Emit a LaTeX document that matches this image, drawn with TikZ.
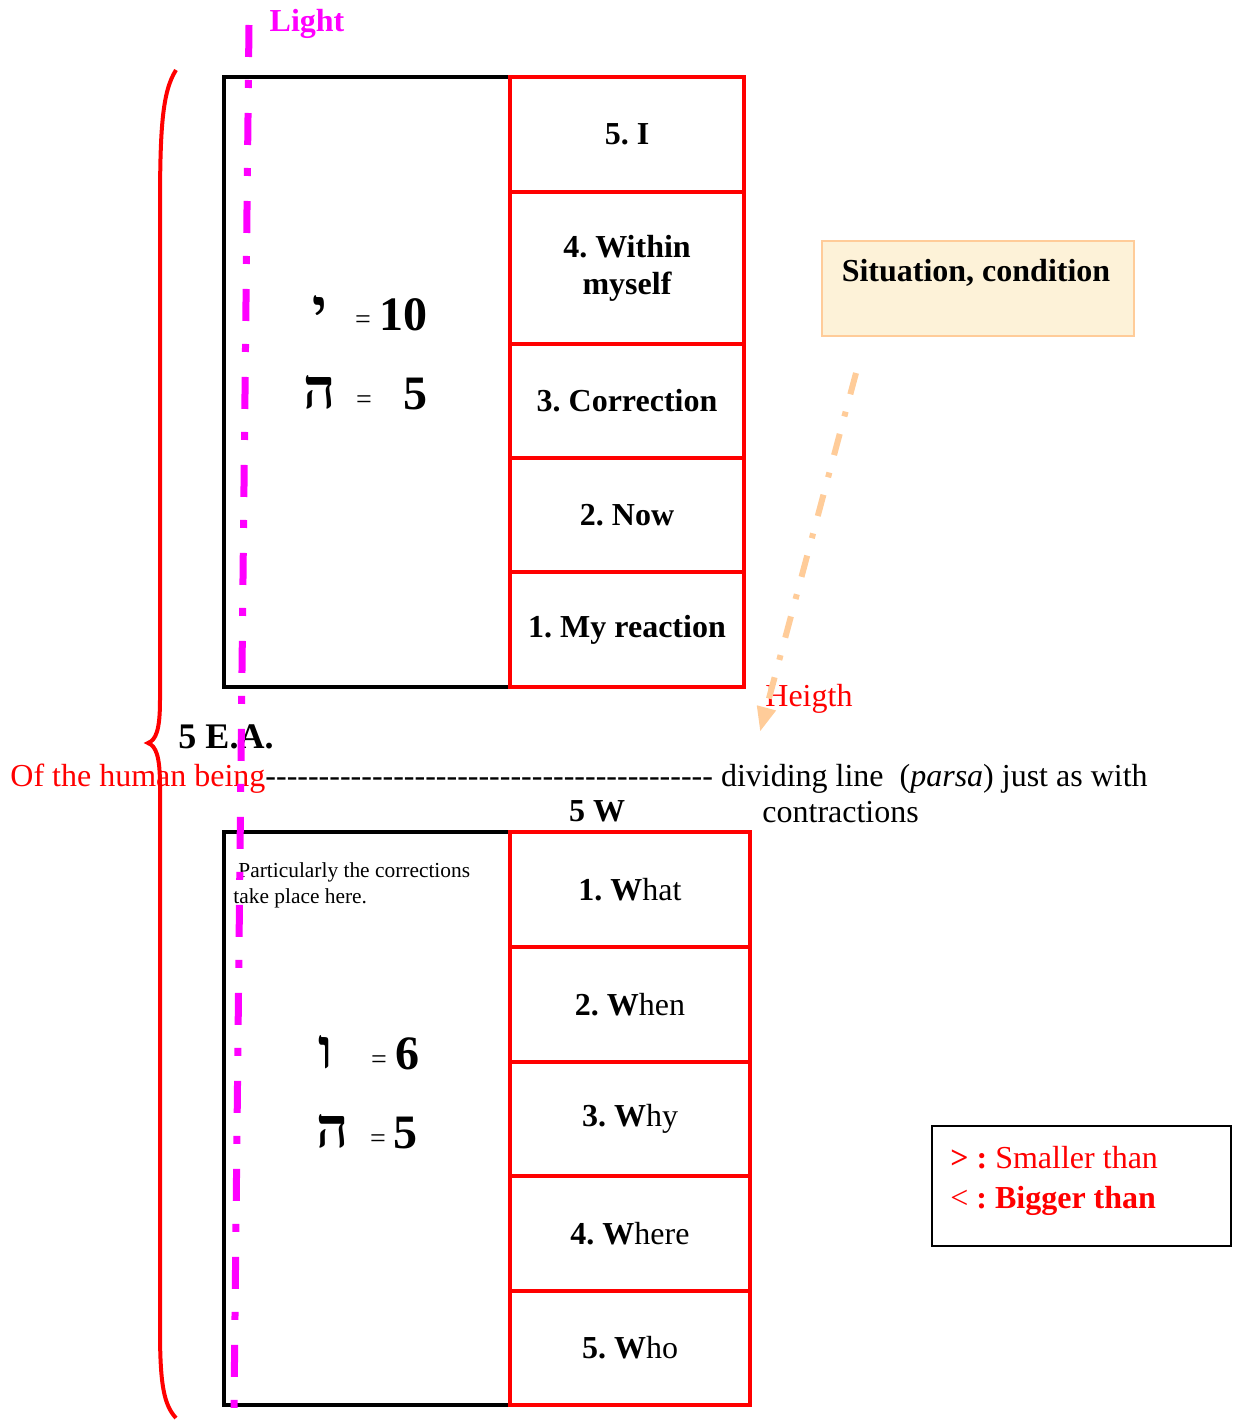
\documentclass[tikz,border=0pt]{standalone}
\usepackage{fontspec}
\setmainfont{Liberation Serif}
\newfontfamily\hebfont[Script=Hebrew]{Liberation Serif}
\usepackage{xcolor}
\usetikzlibrary{arrows.meta}
\usetikzlibrary{math}
\definecolor{qred}{RGB}{255,0,0}
\definecolor{qmag}{RGB}{255,0,255}
\definecolor{qpeach}{RGB}{255,204,153}
\definecolor{qcream}{RGB}{253,242,216}
\newcommand\lab{\fontsize{16}{18.5}\selectfont}
\newcommand\hyrow{\foreach \k in {1,...,42}{-\kern0pt}}
\frenchspacing

\begin{document}
\begin{tikzpicture}[x=0.5pt,y=-0.5pt,
  hbox/.style={draw=black, line width=2pt, minimum width=143pt, inner sep=0pt},
  upcell/.style={draw=qred, line width=1.75pt, minimum width=117pt, inner sep=0pt, align=center, font=\lab\bfseries},
  lowcell/.style={draw=qred, line width=1.75pt, minimum width=120pt, inner sep=0pt, align=center, font=\lab},
  heb/.style={font=\fontsize{28}{30}\selectfont\bfseries\hebfont, anchor=base, inner sep=0pt},
  eq/.style={font=\fontsize{14}{16}\selectfont, anchor=base, inner sep=0pt},
  num/.style={font=\fontsize{24}{26}\selectfont\bfseries, anchor=base, inner sep=0pt},
  txt/.style={font=\lab, inner sep=0pt}]
\tikzmath{
\lxa=249;
\lya=25;
\lxb=234;
\lyb=1408;
}
\useasboundingbox (0,0) rectangle (1233,1423);

%left boxes:
 \node[hbox, minimum height=305pt] (upbox) at (367,382) {};
 \node[hbox, minimum height=286.5pt] (lowbox) at (367,1118.5) {};
%cells of the upper box
 \foreach \n/\yc/\h/\t in {t5/134.5/57.5pt/{5. I}, t4/268/76pt/{4. Within\\myself}, t3/401/57pt/{3. Correction}, t2/515/57pt/{2. Now}, t1/629.5/57.5pt/{1. My reaction}}{
  \node[upcell, minimum height=\h] (\n) at (627,\yc) {\t};
 }
%cells of the lower box
 \foreach \n/\yc/\h/\t in {b1/889.5/57.5pt/{\textbf{1. W}hat}, b2/1004.5/57.5pt/{\textbf{2. W}hen}, b3/1119/57pt/{\textbf{3. W}hy}, b4/1233.5/57.5pt/{\textbf{4. W}here}, b5/1348/57pt/{\textbf{5. W}ho}}{
  \node[lowcell, minimum height=\h] (\n) at (630,\yc) {\t};
 }

%letters and values
 \node[heb] (yod) at (320,328) {י};
 \node[eq] (eqa) at (363,328) {=};
 \node[num] (vala) at (403,330) {10};
 \node[heb] (hea) at (320,408) {ה};
 \node[eq] (eqb) at (364,408) {=};
 \node[num] (valb) at (415,409) {5};
 \node[heb] (vav) at (326,1068) {ו};
 \node[eq] (eqc) at (379,1068) {=};
 \node[num] (valc) at (407,1069) {6};
 \node[heb] (heb) at (333,1147) {ה};
 \node[eq] (eqd) at (378,1147) {=};
 \node[num] (vald) at (405,1148) {5};
 \node[font=\fontsize{10.7}{13}\selectfont, anchor=base west, align=left, inner sep=0pt] (note) at (233,903) {\hspace{2.5pt}Particularly the corrections\\take place here.};

%labels
 \node[txt, font=\lab\bfseries, text=qmag, anchor=base] (light) at (307,32) {Light};
 \node[txt, font=\fontsize{18}{20}\selectfont\bfseries, anchor=base] (ea) at (226,748) {5 E.A.};
 \node[txt, font=\lab\bfseries, anchor=base] (fivew) at (597,821) {5 W};
 \node[txt, anchor=base west] (human) at (10,786) {\textcolor{qred}{Of the human being}\hyrow{} dividing line\ \ (\textit{parsa}) just as with};
 \node[txt, anchor=base west] (contr) at (762,822) {contractions};
 \node[txt, text=qred, anchor=base west] (height) at (765,706) {Heigth};

%situation box and arrow
 \node[draw=qpeach, line width=1pt, fill=qcream, minimum width=156pt, minimum height=47.5pt, inner sep=0pt] (sit) at (978,288.5) {};
 \node[txt, font=\lab\bfseries, anchor=base] (sittxt) at (976,281) {Situation, condition};
 \coordinate (hstart) at (856,373);
 \coordinate (hend) at (760,732);
 \draw[color=qpeach, line width=3pt, dash pattern=on 11pt off 9pt on 2.5pt off 9pt, -{Triangle[length=12.5pt,width=9pt]}] (hstart) -- (hend);

%legend
 \node[draw=black, line width=1pt, minimum width=149.5pt, minimum height=60pt, inner sep=0pt] (legend) at (1081.5,1186) {};
 \node[txt, text=qred, anchor=base west] (lega) at (950,1168) {\textbf{> :} Smaller than};
 \node[txt, text=qred, anchor=base west] (legb) at (950,1208) {< \textbf{: Bigger than}};

%brace
 \draw[color=qred, line width=2pt] (176,70) .. controls (162,92) and (160,130) .. (160,210) -- (160,700) .. controls (160,730) and (156,740) .. (148,743) .. controls (156,746) and (160,756) .. (160,786) -- (160,1330) .. controls (160,1385) and (164,1405) .. (176,1418);

%light line
 \draw[color=qmag, line width=3.5pt, dash pattern=on 16pt off 11.5pt on 4pt off 12.5pt] (\lxa,\lya) -- (\lxb,\lyb);
\end{tikzpicture}
\end{document}
